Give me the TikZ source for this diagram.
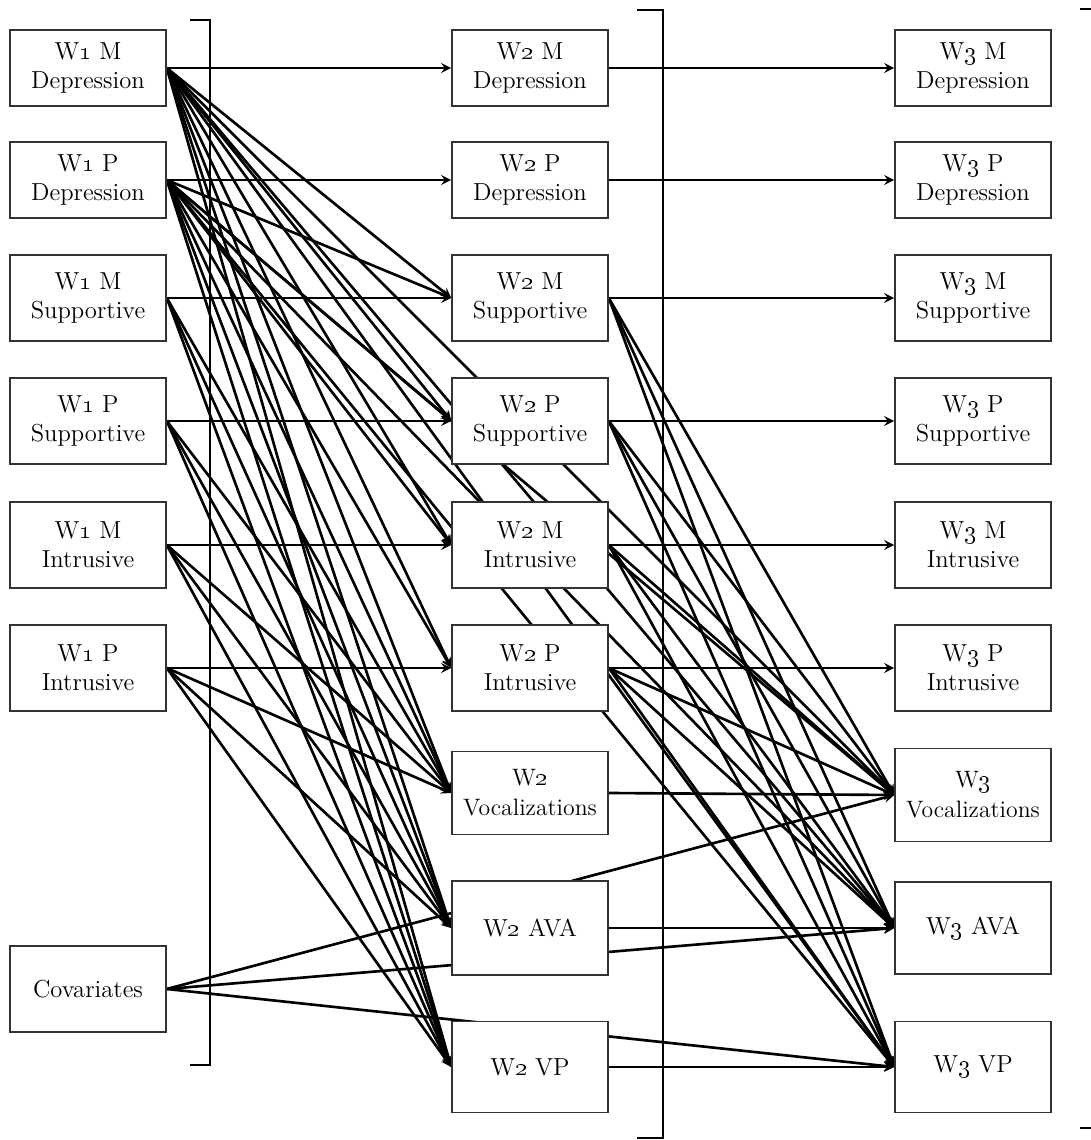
\documentclass[tikz,border=0pt]{standalone}
\usepackage{tikz}
\usetikzlibrary{backgrounds}
\tikzset{>=stealth}
\tikzset{var/.style={draw=black!80, line width=0.9pt, fill=white, align=center,
    minimum width=3.12cm, minimum height=1.72cm, inner sep=2pt,
    font=\fontsize{14}{16.5}\selectfont}}
\tikzset{short/.style={minimum height=1.52cm}}
\tikzset{link/.style={->, line width=1.5pt}}
\newcommand{\wv}[1]{W\oldstylenums{#1}}

\begin{document}
\begin{tikzpicture}
\useasboundingbox (0,0) rectangle (21.82,22.8);

% wave 1
\node[var,short] (w1md) at (1.76,21.44) {\wv{1} M\\Depression};
\node[var,short] (w1pd) at (1.76,19.2) {\wv{1} P\\Depression};
\node[var] (w1ms) at (1.76,16.84) {\wv{1} M\\Supportive};
\node[var] (w1ps) at (1.76,14.38) {\wv{1} P\\Supportive};
\node[var] (w1mi) at (1.76,11.9) {\wv{1} M\\Intrusive};
\node[var] (w1pi) at (1.76,9.44) {\wv{1} P\\Intrusive};
\node[var] (cov) at (1.76,3.02) {Covariates};

% wave 2
\node[var,short] (w2md) at (10.6,21.44) {\wv{2} M\\Depression};
\node[var,short] (w2pd) at (10.6,19.2) {\wv{2} P\\Depression};
\node[var] (w2ms) at (10.6,16.84) {\wv{2} M\\Supportive};
\node[var] (w2ps) at (10.6,14.38) {\wv{2} P\\Supportive};
\node[var] (w2mi) at (10.6,11.9) {\wv{2} M\\Intrusive};
\node[var] (w2pi) at (10.6,9.44) {\wv{2} P\\Intrusive};
\node[var,minimum height=1.66cm,font=\fontsize{13.5}{17}\selectfont] (w2voc) at (10.6,6.94) {\wv{2}\\Vocalizations};
\node[var,minimum height=1.88cm] (w2ava) at (10.6,4.24) {\wv{2} AVA};
\node[var,minimum height=1.82cm] (w2vp) at (10.6,1.46) {\wv{2} VP};

% wave 3
\node[var,short] (w3md) at (19.46,21.44) {\wv{3} M\\Depression};
\node[var,short] (w3pd) at (19.46,19.2) {\wv{3} P\\Depression};
\node[var] (w3ms) at (19.46,16.84) {\wv{3} M\\Supportive};
\node[var] (w3ps) at (19.46,14.38) {\wv{3} P\\Supportive};
\node[var] (w3mi) at (19.46,11.9) {\wv{3} M\\Intrusive};
\node[var] (w3pi) at (19.46,9.44) {\wv{3} P\\Intrusive};
\node[var,minimum height=1.86cm,font=\fontsize{13.5}{17}\selectfont] (w3voc) at (19.46,6.9) {\wv{3}\\Vocalizations};
\node[var,minimum height=1.84cm] (w3ava) at (19.46,4.24) {\wv{3} AVA};
\node[var,minimum height=1.82cm] (w3vp) at (19.46,1.46) {\wv{3} VP};

\begin{scope}[on background layer]
% stability paths
\draw[link] (w1md.east) -- (w2md.west);
\draw[link] (w1pd.east) -- (w2pd.west);
\draw[link] (w1ms.east) -- (w2ms.west);
\draw[link] (w1ps.east) -- (w2ps.west);
\draw[link] (w1mi.east) -- (w2mi.west);
\draw[link] (w1pi.east) -- (w2pi.west);
\draw[link] (w2md.east) -- (w3md.west);
\draw[link] (w2pd.east) -- (w3pd.west);
\draw[link] (w2ms.east) -- (w3ms.west);
\draw[link] (w2ps.east) -- (w3ps.west);
\draw[link] (w2mi.east) -- (w3mi.west);
\draw[link] (w2pi.east) -- (w3pi.west);
\draw[link] (w2voc.east) -- (w3voc.west);
\draw[link] (w2ava.east) -- (w3ava.west);
\draw[link] (w2vp.east) -- (w3vp.west);

% depression to parenting and child outcomes
\draw[link] (w1md.east) -- (w2ms.west);
\draw[link] (w1md.east) -- (w2ps.west);
\draw[link] (w1md.east) -- (w2mi.west);
\draw[link] (w1md.east) -- (w2pi.west);
\draw[link] (w1md.east) -- (w2voc.west);
\draw[link] (w1md.east) -- (w2ava.west);
\draw[link] (w1md.east) -- (w2vp.west);
\draw[link] (w1md.east) -- (w3voc.west);
\draw[link] (w1md.east) -- (w3ava.west);
\draw[link] (w1md.east) -- (w3vp.west);
\draw[link] (w1pd.east) -- (w2ms.west);
\draw[link] (w1pd.east) -- (w2ps.west);
\draw[link] (w1pd.east) -- (w2mi.west);
\draw[link] (w1pd.east) -- (w2pi.west);
\draw[link] (w1pd.east) -- (w2voc.west);
\draw[link] (w1pd.east) -- (w2ava.west);
\draw[link] (w1pd.east) -- (w2vp.west);
\draw[link] (w1pd.east) -- (w3voc.west);
\draw[link] (w1pd.east) -- (w3ava.west);
\draw[link] (w1pd.east) -- (w3vp.west);

% parenting to child outcomes
\draw[link] (w1ms.east) -- (w2voc.west);
\draw[link] (w1ms.east) -- (w2ava.west);
\draw[link] (w1ms.east) -- (w2vp.west);
\draw[link] (w1ps.east) -- (w2voc.west);
\draw[link] (w1ps.east) -- (w2ava.west);
\draw[link] (w1ps.east) -- (w2vp.west);
\draw[link] (w1mi.east) -- (w2voc.west);
\draw[link] (w1mi.east) -- (w2ava.west);
\draw[link] (w1mi.east) -- (w2vp.west);
\draw[link] (w1pi.east) -- (w2voc.west);
\draw[link] (w1pi.east) -- (w2ava.west);
\draw[link] (w1pi.east) -- (w2vp.west);
\draw[link] (w2ms.east) -- (w3voc.west);
\draw[link] (w2ms.east) -- (w3ava.west);
\draw[link] (w2ms.east) -- (w3vp.west);
\draw[link] (w2ps.east) -- (w3voc.west);
\draw[link] (w2ps.east) -- (w3ava.west);
\draw[link] (w2ps.east) -- (w3vp.west);
\draw[link] (w2mi.east) -- (w3voc.west);
\draw[link] (w2mi.east) -- (w3ava.west);
\draw[link] (w2mi.east) -- (w3vp.west);
\draw[link] (w2pi.east) -- (w3voc.west);
\draw[link] (w2pi.east) -- (w3ava.west);
\draw[link] (w2pi.east) -- (w3vp.west);

% covariates
\draw[link] (cov.east) -- (w3voc.west);
\draw[link] (cov.east) -- (w3ava.west);
\draw[link] (cov.east) -- (w3vp.west);
\end{scope}

% brackets between the waves
\draw[line width=1.5pt] (3.8,22.4) -- (4.2,22.4) -- (4.2,1.5) -- (3.8,1.5);
\draw[line width=1.5pt] (12.74,22.6) -- (13.26,22.6) -- (13.26,0.04) -- (12.74,0.04);
\draw[line width=1.5pt] (21.6,22.62) -- (21.88,22.62) -- (21.88,0.24) -- (21.6,0.24);
\end{tikzpicture}
\end{document}
